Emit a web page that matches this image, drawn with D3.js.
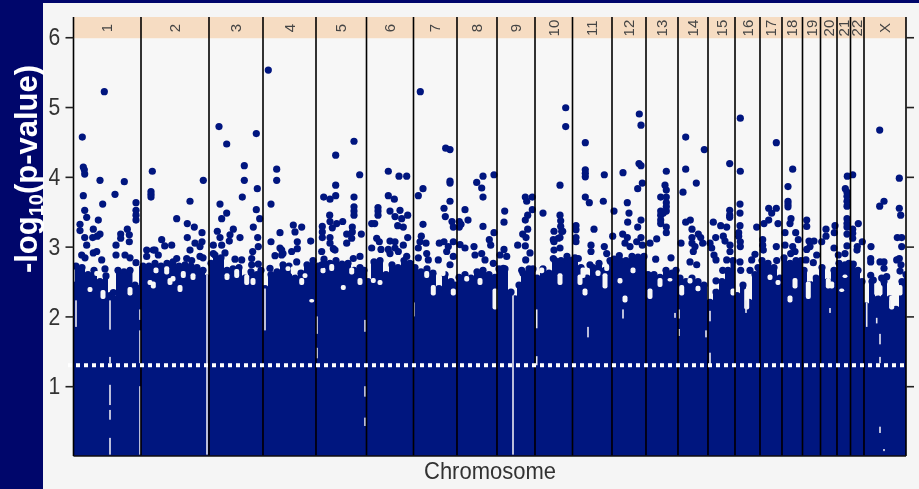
<!DOCTYPE html>
<html>
<head>
<meta charset="utf-8">
<script src="https://d3js.org/d3.v7.min.js"></script>
<style>
html, body { margin: 0; padding: 0; background: #00066b; overflow: hidden; }
text { font-family: "Liberation Sans", Arial, sans-serif; }
</style>
</head>
<body>
<div id="chart"></div>
<script>
// positions are along the genome axis (no scale printed on it)
var chromNames = ["1","2","3","4","5","6","7","8","9","10","11","12","13","14","15","16","17","18","19","20","21","22","X"];
var chromBreaks = [0.5,68,136,190,243,293.5,340.5,384,424,462,499.5,539,573,605,635,662,687,709,729.5,747.5,764,777.5,791,833];
var yTicks = [1,2,3,4,5,6];
var cutoff = 1.3;

// upper edge of the solid mass of points
var massPos = [0.5,3,9,15,21,27,33,37,41,45,51,57,62,70,76,82,88,94,100,106,112,118,124,130,134,138,142,148,154,160,166,172,178,184,188,192,198,204,210,216,222,228,234,240,245,251,257,263,269,275,281,287,291,295,301,307,313,319,325,331,337,342,348,354,360,366,372,378,382,386,392,398,404,410,416,422,426,432,438,442,446,450,456,460,464,470,476,482,488,494,498,502,508,514,520,526,532,537,541,547,553,559,565,571,575,581,587,593,599,603,607,613,619,625,631,637,643,649,655,660,664,670,676,682,685,689,695,701,707,711,717,723,728,731,737,743,749,755,761,766,772,776,779,785,789,793,799,805,811,817,823,829,833];
var massTop = [2.45,2.72,2.7,2.6,2.66,2.5,2.58,2.3,2.25,2.66,2.64,2.66,2.45,2.72,2.72,2.76,2.72,2.76,2.78,2.72,2.74,2.72,2.7,2.66,2.55,2.76,2.88,2.84,2.66,2.68,2.7,2.55,2.64,2.6,2.66,2.4,2.6,2.64,2.74,2.72,2.55,2.62,2.74,2.8,2.72,2.82,2.76,2.8,2.75,2.76,2.66,2.7,2.66,2.5,2.78,2.8,2.6,2.74,2.7,2.8,2.76,2.7,2.64,2.68,2.62,2.4,2.6,2.5,2.45,2.56,2.6,2.55,2.64,2.66,2.6,2.56,2.68,2.68,2.35,2.25,2.45,2.62,2.68,2.68,2.55,2.68,2.62,2.8,2.8,2.86,2.8,2.84,2.7,2.55,2.7,2.76,2.66,2.8,2.82,2.8,2.8,2.86,2.85,2.86,2.6,2.6,2.56,2.66,2.62,2.66,2.55,2.5,2.55,2.5,2.45,2.2,2.35,2.5,2.66,2.8,2.3,2.45,2.2,2.6,2.7,2.8,2.76,2.7,2.55,2.84,2.76,2.8,2.8,2.66,2.46,2.55,2.7,2.5,2.66,2.76,2.74,2.76,2.7,2.66,2.5,2.15,2.5,2.25,2.5,2.25,2.1,2.5,2.6];

// single points standing clear of the mass: [position, -log10 p]
var hits = [
[31.3,5.22],[9.3,4.57],[10.3,4.14],[11.3,4.1],[11.7,4.04],[27,3.95],[51.3,3.93],[10.3,3.73],[42,3.75],[29.7,3.61],[63,3.63],[63,3.52],[63,3.45],[63,3.38],[11.7,3.52],[13.7,3.42],[25.3,3.38],[7,3.32],[7,3.23],[20.3,3.25],[27,3.18],[24.3,3.15],[19.7,3.13],[11.7,3.13],[54.3,3.25],[47.7,3.18],[56.3,3.17],[56.3,3.07],[47.7,3.12],[43,3.02],[13.7,3.02],[43,2.88],[23.7,2.93],[20.3,2.91],[8.7,2.88],[12,2.84],[28.7,2.81],[52,2.88],[57,2.84],[63,2.77],[32,2.68],[40.3,2.34],
[79.3,4.08],[130.3,3.95],[78,3.79],[78,3.75],[78,3.71],[117,3.65],[103.7,3.4],[114.3,3.33],[121.3,3.28],[129,3.2],[88.7,3.1],[114.3,3.13],[98.7,3.02],[91.7,3.01],[122,3.05],[129,3.07],[127,3],[73.7,2.95],[80.3,2.95],[117,2.95],[73.7,2.86],[82,2.95],[85.3,2.88],[103.7,2.83],[113.7,2.83],[118.7,2.8],[127,2.86],[130,2.84],
[146,4.72],[153.7,4.47],[183.3,4.62],[171.3,4.16],[171.3,3.95],[184.3,3.83],[169.3,3.71],[147,3.61],[183.3,3.53],[153.7,3.48],[148.7,3.4],[186.7,3.4],[180.3,3.28],[160.3,3.25],[144.3,3.22],[157,3.17],[147,3.13],[167,3.13],[184.7,3.13],[156.3,3.08],[140.3,3.02],[148.7,3.02],[185.3,3],[179.7,2.93],[140.3,2.9],[152,2.91],[162,2.82],[168.7,2.81],[178.7,2.83],[185.3,2.75],[178.7,2.74],[143.7,2.74],
[195.3,5.53],[203.7,4.11],[203.7,3.95],[198,3.61],[207,3.2],[198,3.07],[220.3,3.31],[222,3.21],[228.7,3.28],[237.7,3.08],[224.3,3.07],[224.3,2.97],[218.7,2.93],[208.7,2.95],[208.7,2.88],[223.7,2.78],[207,2.98],[202,2.87],[210,2.9],[197,2.69],
[281,4.51],[262.7,4.31],[286.7,4.03],[262.7,3.88],[250.7,3.71],[257,3.68],[262.7,3.73],[281,3.71],[281,3.57],[281,3.51],[281,3.45],[256.7,3.45],[257,3.36],[259.3,3.27],[263.7,3.33],[269.7,3.36],[249.3,3.29],[249.3,3.21],[249.3,3.13],[279.3,3.28],[279.3,3.21],[273.7,3.18],[278.7,3.12],[288.3,3.18],[273.7,3.05],[257,3.13],[257,3.05],[260.3,2.97],[262,2.95],[248.7,2.93],[287,2.86],[280.3,2.83],[248.7,2.74],
[315.3,4.08],[326,4.01],[333.7,4.01],[315.3,3.73],[321.3,3.68],[305,3.56],[305,3.51],[305,3.45],[317,3.51],[327,3.52],[322,3.43],[328.7,3.4],[334.7,3.45],[298.7,3.33],[301.7,3.33],[324.7,3.3],[330.3,3.28],[303.7,3.12],[306.3,3.07],[317,3.08],[322,3.07],[334.7,3.13],[330.3,3.02],[298.7,2.98],[308,2.96],[315.3,2.96],[322,2.98],[317,2.9],[325.3,2.93],[333.7,2.86],
[347.3,5.22],[372.7,4.41],[377,4.39],[377,3.94],[377,3.91],[350,3.83],[345.3,3.73],[377,3.65],[371,3.55],[372.3,3.43],[350,3.32],[379,3.36],[380.3,3.28],[348.3,3.15],[347,3.07],[353,3.05],[366.3,3.05],[371,3.07],[380.3,3.07],[345.3,2.98],[375.3,3],[345.3,2.84],[353.7,2.9],[355.3,2.81],[373.7,2.93],[365.3,2.81],[380.3,2.86],[377,2.74],
[421,4.03],[410,4.01],[403.7,3.92],[408.7,3.84],[410,3.71],[392,3.53],[395,3.38],[386.3,3.36],[386.3,3.28],[388,3.32],[410,3.29],[421,3.2],[416.3,3.1],[417.7,3.02],[387,3.03],[392,2.98],[401,3],[402,2.88],[408.7,2.9],[412,2.81],[420.3,2.76],
[431.7,3.51],[431,3.35],[452.3,3.71],[453.7,3.65],[459.3,3.71],[459.3,3.53],[454.7,3.45],[452.3,3.38],[454.7,3.25],[449.7,3.18],[453,3.13],[444.7,3.02],[452.3,3.01],[431,2.96],[433.7,2.86],[427,2.88],[430.3,2.69],[457,2.91],[452.7,2.81],[448.7,2.66],
[492.7,4.99],[492.7,4.72],[487,3.88],[470,3.48],[487,3.45],[487.7,3.37],[487.7,3.29],[488.7,3.22],[481,3.22],[487,3.13],[481,3.07],[489.7,3.22],[485.3,3.12],[480.3,3.1],[481,2.95],[487,2.98],[480.3,2.83],
[512.3,4.49],[512.3,4.1],[512.3,4.05],[512.3,4],[531.3,4.03],[512.3,3.71],[516.3,3.63],[530.3,3.65],[503,3.3],[503,3.24],[503,3.13],[503,3.07],[521,3.25],[518,3.02],[531.3,3],[518,2.93],[505.3,2.83],[533.7,2.9],[517,2.74],
[566.3,4.9],[568,4.74],[566,4.19],[568,4.16],[550,4.06],[569.3,3.91],[564.7,3.83],[554.3,3.63],[541,3.51],[556,3.48],[554.7,3.35],[568,3.38],[564.7,3.28],[549.7,3.18],[554.3,3.13],[539.7,3.15],[552,3.05],[557,3],[563.7,3.07],[568,3.13],[569.3,3.02],[546.3,2.87],
[593.3,4.08],[592,3.88],[593.3,3.81],[587.7,3.71],[593.3,3.71],[593.3,3.63],[593.3,3.57],[593.3,3.51],[587.7,3.51],[587.7,3.45],[587.7,3.38],[587.7,3.33],[590.3,3.48],[593.3,3.28],[593.3,3.2],[583.7,3.11],[577,3.05],[582.7,2.82],[598,2.84],
[612.7,4.57],[631.3,4.39],[612.7,4.11],[623.3,3.91],[610,3.78],[612.7,3.35],[617.3,3.38],[619,3.25],[625.3,3.18],[627.7,3.13],[619,3.13],[619,3.05],[608,3.05],[629.7,3.05],[622,3],[620.3,2.93],[617,2.78],[623.7,2.74],
[656.7,4.19],[656.7,3.52],[656.7,3.45],[656.7,3.42],[640.3,3.35],[647.7,3.3],[653.7,3.28],[642.7,3.13],[650.3,3.15],[652,3.08],[637,3.05],[657,3.02],[638.7,2.98],[641,2.88],[643,2.81],[657,2.93],[653.7,2.81],[649.7,2.66],[643,2.51],
[667.3,4.84],[667.3,4.08],[667,3.61],[667,3.48],[667,3.3],[665.7,3.2],[665.7,3.15],[667.3,3.07],[667.3,3],[683.7,3.28],[682,2.89],[678.7,2.81],[667,2.78],[667.7,2.66],[677,2.66],
[703.3,4.49],[695.7,3.55],[703.3,3.55],[698.7,3.48],[695.7,3.38],[691,3.33],[705,3.33],[689.7,3.1],[689.7,3.02],[703.3,3],[690.3,2.95],[703.7,2.8],
[719.7,4.11],[715,3.86],[715,3.65],[715,3.61],[715,3.57],[718,3.4],[717,3.33],[712,3.2],[722.7,3.2],[725.3,3.1],[712,3.02],[719.7,3],[722,2.93],[717.7,2.9],
[733.7,3.38],[733.7,3.29],[736,3.08],[741,3.08],[737,3],[733.7,2.96],[743.7,2.88],[740.3,2.77],[733,2.81],
[753,3.25],[753,3.15],[748.7,3.07],[761,2.98],[762,3.3],[761.3,3.2],
[774.3,4.01],[772.3,3.83],[774,3.78],[774,3.72],[774,3.65],[774,3.58],[774,3.4],[774,3.33],[774,3.28],[774,3.18],[774,3.01],[772,2.9],[765.3,2.88],
[779.7,4.03],[785.3,3.33],[779.7,3.25],[779.7,3.19],[779.7,3.12],[789.3,3.07],[784.3,3],[784,2.95],[780.3,2.75],
[806.7,4.67],[826.3,3.98],[811,3.65],[806.7,3.58],[826.3,3.55],[827.7,3.45],[824.3,3.13],[828.7,3.13],[828.7,3],[798,3],[797.7,2.83],[797.7,2.78],[807,2.78],[811,2.78],[811,2.69],[826.3,2.83],[823.7,2.81],[828,2.74],[797.7,2.59],[800.3,2.52],[808.7,2.55],[813.7,2.57],[827,2.65]
];

// empty patches inside the mass: [position, upper, lower]
var holes = [
[83,2.7,2.62],[93.7,2.72,2.6],[97,2.55,2.45],[110.3,2.65,2.55],[80.3,2.5,2.4],[107,2.45,2.35],[163.7,2.68,2.55],[173.7,2.6,2.45],[23.7,2.65,2.58],[220.3,2.72,2.6],[228.7,2.55,2.45],[258.7,2.75,2.65],[270.3,2.45,2.38],[300.3,2.55,2.48],[353.7,2.65,2.55],[360.3,2.45,2.3],[407,2.55,2.45],[380.3,2.4,2.3],[238.7,2.25,2.2],[487,2.62,2.45],[507,2.6,2.45],[533.7,2.75,2.65],[532,2.62,2.4],[547,2.55,2.47],[552,2.3,2.2],[587,2.55,2.42],[577,2.4,2.25],[597,2.55,2.5],[608.7,2.45,2.3],[512,2.4,2.3],[422,2.4,2.1],[673.7,2.4,2.1],[697,2.6,2.52],[722,2.55,2.4],[717,2.3,2.2],[735.3,2.5,2.25],[755.3,2.55,2.4],[768.7,2.4,2.35],[803.7,2.5,2.3],[818.7,2.3,2.1],
[215,2.72,2.65],[232,2.62,2.55],[250,2.7,2.62],[278.7,2.7,2.6],[287,2.55,2.45],[307,2.52,2.45],[370,2.68,2.58],[393.7,2.58,2.5],[468.7,2.7,2.62],[510,2.7,2.55],[525,2.66,2.58],[560,2.7,2.62],[617,2.55,2.47],[625,2.44,2.36],[642,2.5,2.4],[660,2.4,2.3],[705,2.52,2.45],[737,2.6,2.5],[758.7,2.5,2.4],[772,2.6,2.55],[807,2.45,2.3],[827,2.45,2.3],[17,2.42,2.35],[30,2.38,2.25],[57,2.42,2.3],[77,2.52,2.45],[100,2.58,2.5],[120,2.62,2.52],[154,2.62,2.52],[180,2.55,2.45]
];
var streaks = [
[37,2.23,1.81],[37,1.42,1.33],[37,1.02,0.73],[37,0.66,0.52],[37,0.26,0.02],[67,2.1,1.95],[67,1.8,1.33],[67,1,0.02],[3,2.23,1.85],[134,2.6,0.02],[192,2.4,1.8],[244,2,1.75],[244,1.55,1.4],[292,1.95,1.78],[292,1,0.85],[292,0.55,0.43],[341,2.2,2],
[440,2.3,0.02],[463.7,2.1,1.83],[463.7,1.43,1.3],[606,2.1,1.97],[606,1.82,1.72],[637,2.08,1.93],[637,1.48,1.32],[673,2.23,2.05],[633,1.8,1.7],[793.7,2.2,1.85],[515,1.85,1.7],[550,2.1,1.97],[803.7,1.98,1.9],[817,2.23,2.12],[807,1.42,1.33],[807,1.75,1.6],[811,0.1,0.07],[807,0.42,0.33],[757,2.12,2.05],[602,2.05,1.98]
];

var W = 919, H = 489;
var left = 73.5, right = 906, top_ = 17, bottom = 456;
var dotColor = "#02147f", panelColor = "#f5f5f5", plotColor = "#f7f7f7";

var svg = d3.select("#chart").append("svg").attr("width", W).attr("height", H)
    .style("display", "block");

var defs = svg.append("defs");
defs.append("clipPath").attr("id", "plotClip").append("rect")
    .attr("x", left).attr("y", top_).attr("width", right - left).attr("height", bottom - top_);
defs.append("filter").attr("id", "soft").append("feGaussianBlur").attr("stdDeviation", 0.5);

var x = d3.scaleLinear().domain([0.5, 833]).range([left, right]);
var y = d3.scaleLinear().domain([0, 6.29]).range([bottom, top_]);

// slide background
svg.append("rect").attr("width", W).attr("height", H).attr("fill", "#00066b");
svg.append("rect").attr("x", 43).attr("y", 3).attr("width", W - 43).attr("height", H - 3).attr("fill", panelColor);

var plot = svg.append("g").attr("filter", "url(#soft)");

plot.append("rect").attr("x", left).attr("y", top_).attr("width", right - left).attr("height", bottom - top_)
    .attr("fill", plotColor);

// strip along the top
plot.append("rect").attr("x", left).attr("y", top_).attr("width", right - left).attr("height", y(6) - top_ + 1)
    .attr("fill", "#f6dcc2");

var marks = plot.append("g").attr("clip-path", "url(#plotClip)");

var mass = d3.area()
    .x(function (d, i) { return x(massPos[i]); })
    .y0(bottom)
    .y1(function (d) { return y(d); })
    .curve(d3.curveStep);

marks.append("path").datum(massTop).attr("d", mass).attr("fill", dotColor);

marks.append("g").selectAll("circle").data(massTop).join("circle")
    .attr("cx", function (d, i) { return x(massPos[i]); })
    .attr("cy", function (d) { return y(d); })
    .attr("r", 3.6)
    .attr("fill", dotColor);

marks.append("g").selectAll("rect").data(holes).join("rect")
    .attr("x", function (d) { return x(d[0]) - 2.5; })
    .attr("y", function (d) { return y(d[1]); })
    .attr("width", 5)
    .attr("height", function (d) { return y(d[2]) - y(d[1]); })
    .attr("rx", 2)
    .attr("fill", plotColor);

marks.append("g").selectAll("rect").data(streaks).join("rect")
    .attr("x", function (d) { return x(d[0]) - 0.8; })
    .attr("y", function (d) { return y(d[1]); })
    .attr("width", 1.6)
    .attr("height", function (d) { return y(d[2]) - y(d[1]); })
    .attr("fill", "#e8e8f0");

marks.append("g").selectAll("circle").data(hits).join("circle")
    .attr("cx", function (d) { return x(d[0]); })
    .attr("cy", function (d) { return y(d[1]); })
    .attr("r", 3.6)
    .attr("fill", dotColor);

// chromosome dividers and names
plot.append("g").selectAll("line").data(chromBreaks).join("line")
    .attr("x1", function (d) { return x(d); })
    .attr("x2", function (d) { return x(d); })
    .attr("y1", top_)
    .attr("y2", bottom)
    .attr("stroke", "#000")
    .attr("stroke-width", 1.6);

plot.append("g").selectAll("text").data(chromNames).join("text")
    .attr("transform", function (d, i) {
        return "translate(" + (x((chromBreaks[i] + chromBreaks[i + 1]) / 2) + 5) + "," + ((top_ + y(6)) / 2 + 1) + ") rotate(-90)";
    })
    .attr("text-anchor", "middle")
    .attr("font-size", 15)
    .attr("fill", "#444")
    .text(function (d) { return d; });

plot.append("line")
    .attr("x1", left).attr("x2", right)
    .attr("y1", bottom).attr("y2", bottom)
    .attr("stroke", "#111").attr("stroke-width", 1.6);

// y axes, labels only on the left
var yAxisL = plot.append("g").attr("transform", "translate(" + left + ",0)")
    .call(d3.axisLeft(y).tickValues(yTicks).tickSize(8).tickPadding(7).tickFormat(d3.format("d")));
var yAxisR = plot.append("g").attr("transform", "translate(" + right + ",0)")
    .call(d3.axisRight(y).tickValues(yTicks).tickSize(8).tickFormat(""));
yAxisL.select(".domain").remove();
yAxisR.select(".domain").remove();
yAxisL.selectAll("line").attr("stroke", "#222").attr("stroke-width", 1.6);
yAxisR.selectAll("line").attr("stroke", "#222").attr("stroke-width", 1.6);
yAxisL.selectAll("text")
    .attr("font-size", 24)
    .attr("font-family", "'Liberation Sans', Arial, sans-serif")
    .attr("fill", "#333")
    .attr("x", -15)
    .attr("transform", "scale(0.88,1)");

// significance line
svg.append("line")
    .attr("x1", 68).attr("x2", right)
    .attr("y1", y(cutoff)).attr("y2", y(cutoff))
    .attr("stroke", "#fff")
    .attr("stroke-width", 4)
    .attr("stroke-dasharray", "4 4");

plot.append("text")
    .attr("x", 490).attr("y", 479)
    .attr("text-anchor", "middle")
    .attr("font-size", 24)
    .attr("textLength", 132)
    .attr("lengthAdjust", "spacingAndGlyphs")
    .attr("fill", "#333")
    .text("Chromosome");

var yTitle = svg.append("text")
    .attr("transform", "translate(37,169) rotate(-90)")
    .attr("text-anchor", "middle")
    .attr("font-size", 31)
    .attr("font-weight", "bold")
    .attr("fill", "#fff");
yTitle.append("tspan").text("-log");
yTitle.append("tspan").attr("font-size", 20).attr("dy", 6).text("10");
yTitle.append("tspan").attr("dy", -6).text("(p-value)");
</script>
</body>
</html>
